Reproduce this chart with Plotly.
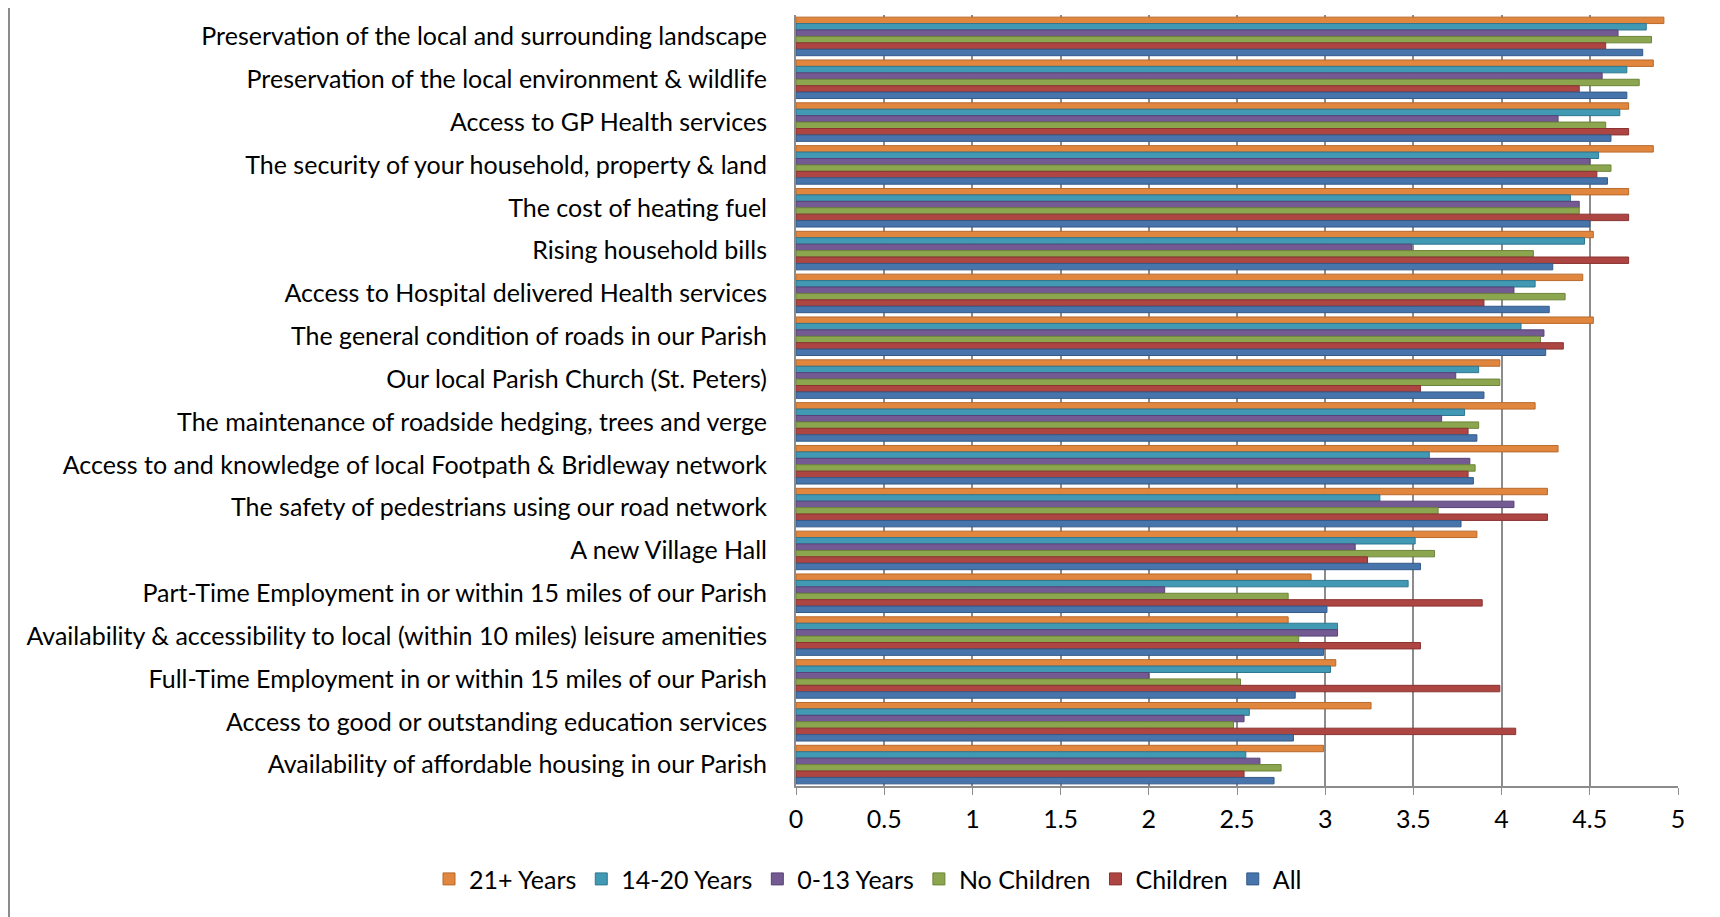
import plotly.graph_objects as go

categories = [
    "Preservation of the local and surrounding landscape",
    "Preservation of the local environment & wildlife",
    "Access to GP Health services",
    "The security of your household, property & land",
    "The cost of heating fuel",
    "Rising household bills",
    "Access to Hospital delivered Health services",
    "The general condition of roads in our Parish",
    "Our local Parish Church (St. Peters)",
    "The maintenance of roadside hedging, trees and verge",
    "Access to and knowledge of local Footpath & Bridleway network",
    "The safety of pedestrians using our road network",
    "A new Village Hall",
    "Part-Time Employment in or within 15 miles of our Parish",
    "Availability & accessibility to local (within 10 miles) leisure amenities",
    "Full-Time Employment in or within 15 miles of our Parish",
    "Access to good or outstanding education services",
    "Availability of affordable housing in our Parish",
]

years_21_plus = [4.92, 4.86, 4.72, 4.86, 4.72, 4.52, 4.46, 4.52, 3.99, 4.19, 4.32, 4.26, 3.86, 2.92, 2.79, 3.06, 3.26, 2.99]
years_14_20 = [4.82, 4.71, 4.67, 4.55, 4.39, 4.47, 4.19, 4.11, 3.87, 3.79, 3.59, 3.31, 3.51, 3.47, 3.07, 3.03, 2.57, 2.55]
years_0_13 = [4.66, 4.57, 4.32, 4.50, 4.44, 3.49, 4.07, 4.24, 3.74, 3.66, 3.82, 4.07, 3.17, 2.09, 3.07, 2.00, 2.54, 2.63]
no_children = [4.85, 4.78, 4.59, 4.62, 4.44, 4.18, 4.36, 4.22, 3.99, 3.87, 3.85, 3.64, 3.62, 2.79, 2.85, 2.52, 2.48, 2.75]
children = [4.59, 4.44, 4.72, 4.54, 4.72, 4.72, 3.90, 4.35, 3.54, 3.81, 3.81, 4.26, 3.24, 3.89, 3.54, 3.99, 4.08, 2.54]
all_resp = [4.80, 4.71, 4.62, 4.60, 4.50, 4.29, 4.27, 4.25, 3.90, 3.86, 3.84, 3.77, 3.54, 3.01, 2.99, 2.83, 2.82, 2.71]

series_names = ["21+ Years", "14-20 Years", "0-13 Years", "No Children", "Children", "All"]
series_values = [years_21_plus, years_14_20, years_0_13, no_children, children, all_resp]
colors = ["#E0863E", "#4299B4", "#735A93", "#8BA64E", "#AD4643", "#4775AB"]
edges = ["#B86A2C", "#2F7790", "#574377", "#6C843A", "#8A3331", "#345A88"]

x_ticks = [0, 0.5, 1, 1.5, 2, 2.5, 3, 3.5, 4, 4.5, 5]

L, R = 788, 50
fig = go.Figure()
for name, vals, c, e in zip(series_names, series_values, colors, edges):
    fig.add_trace(go.Bar(
        y=categories, x=vals, name=name, orientation="h",
        marker=dict(color=c, line=dict(color=e, width=1)),
    ))

fig.update_layout(
    width=1720, height=917,
    paper_bgcolor="white", plot_bgcolor="white",
    barmode="group", bargap=0.1, bargroupgap=0.0,
    margin=dict(l=L, r=R, t=7, b=139),
    font=dict(family="Lato, 'Open Sans', sans-serif", size=25, color="black"),
    showlegend=True,
    legend=dict(
        orientation="h", xref="container", yref="container",
        x=0.5, xanchor="center", y=0.05, yanchor="middle",
        font=dict(size=25), itemwidth=30, traceorder="normal",
    ),
    xaxis=dict(
        range=[0, 5], tickvals=x_ticks, ticktext=[f"{t:g}" for t in x_ticks],
        showgrid=True, gridcolor="#8C8C8C", gridwidth=1.5,
        zeroline=False, showline=True, linecolor="#8C8C8C", linewidth=1.5,
        ticks="outside", ticklen=7, tickcolor="#8C8C8C",
        ticklabelstandoff=3,
        tickfont=dict(size=25),
        fixedrange=True,
    ),
    yaxis=dict(
        autorange="reversed", showgrid=False, zeroline=False,
        showline=True, linecolor="#8C8C8C", linewidth=2,
        ticks="", ticklabelstandoff=22,
        tickfont=dict(size=25),
    ),
    shapes=[dict(type="line", xref="paper", yref="paper",
                 x0=-(L - 1) / (1720 - L - R), x1=-(L - 1) / (1720 - L - R),
                 y0=-10, y1=10, line=dict(color="#8C8C8C", width=2))],
)

fig.write_html("out.html")
